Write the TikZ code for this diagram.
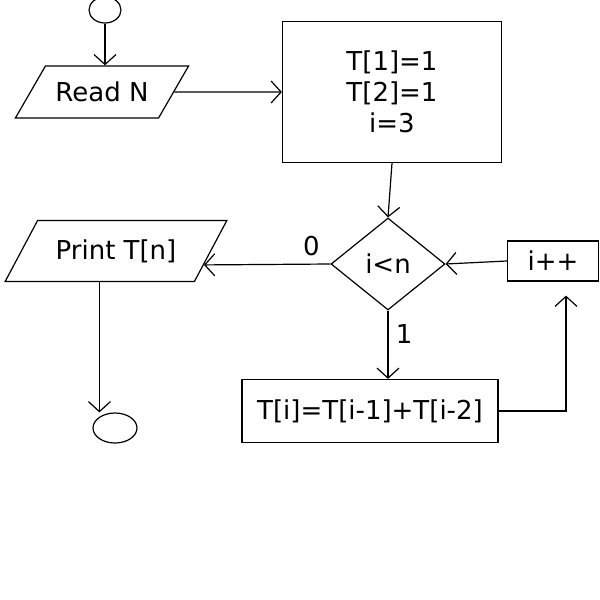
\documentclass[tikz,border=0pt]{standalone}
\usepackage{fontspec}
\setmainfont{DejaVu Sans}
\usetikzlibrary{shapes.geometric,arrows.meta}

\begin{document}
\begin{tikzpicture}[x=1pt,y=-1pt,line width=1.2pt,
  every node/.style={font=\fontsize{26}{31}\selectfont},
  flow/.style={-{Straight Barb[length=10pt,width=22pt,line width=1.2pt]}},
  term/.style={draw,ellipse,inner sep=0pt},
  io/.style={draw,trapezium,inner ysep=0pt},
  proc/.style={draw,rectangle,inner sep=0pt},
  test/.style={draw,diamond,inner sep=0pt}]

\useasboundingbox (0,0) rectangle (600,600);

\node [term,minimum width=32pt,minimum height=26pt] (start) at (105,10) {};

\node [io,trapezium left angle=60,trapezium right angle=120,inner xsep=10pt,inner ysep=16pt] (read) at (102,92) {Read N};

\node [proc,minimum width=219pt,minimum height=141pt,align=center] (init) at (392,92) {T[1]=1\\T[2]=1\\i=3};

\node [test,minimum width=114pt,minimum height=92pt] (cond) at (388,264) {i<n};

\node [io,trapezium left angle=62,trapezium right angle=118,inner xsep=18pt,inner ysep=19pt] (print) at (116,251) {Print T[n]};

\node [proc,minimum width=91pt,minimum height=40pt] (inc) at (553,261) {i++};

\node [proc,minimum width=256pt,minimum height=63pt] (calc) at (370,411) {T[i]=T[i-1]+T[i-2]};

\node [term,minimum width=44pt,minimum height=30pt] (stop) at (115,428) {};

\draw [flow] (start.south) -- (start.south |- read.north);
\draw [flow] (read.east) -- (init.west);
\draw [flow] (init.south) -- (cond.north);
\draw [flow] (cond.west) -- node [above,pos=0.15,yshift=4pt] (no) {0} (print.-9);
\draw [flow] (inc.west) -- (cond.east);
\draw [flow] (cond.south) -- node [right,pos=0.35,xshift=4pt] (yes) {1} (cond.south |- calc.north);
\draw [flow,shorten >=14pt] (calc.east) -| ([xshift=13pt]inc.south);
\draw [flow] (print.bottom side) -- (print.bottom side |- stop.north);

\end{tikzpicture}
\end{document}
